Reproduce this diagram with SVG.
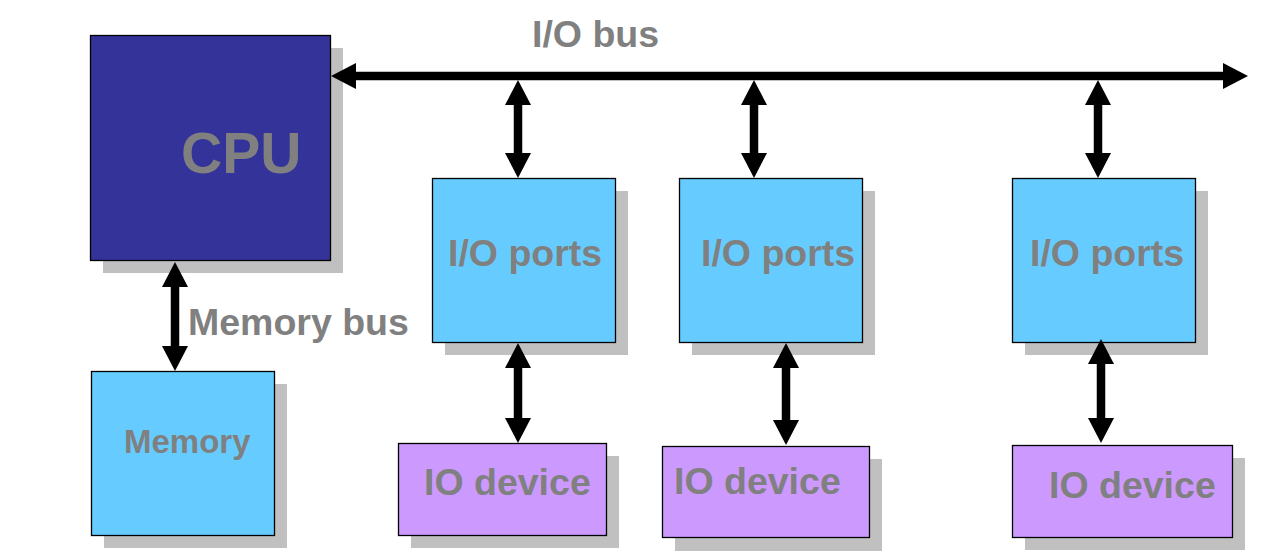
<svg xmlns="http://www.w3.org/2000/svg" width="1278" height="551" viewBox="0 0 1278 551">
<style>
.sh{fill:#C0C0C0;stroke:none}
.bx{stroke:#000;stroke-width:1.3}
.cpu{fill:#333399}
.blue{fill:#66CCFF}
.pur{fill:#CC99FF}
.t{font-family:"Liberation Sans",Arial,sans-serif;font-weight:bold;fill:#808080}
.c{stroke:#000;stroke-width:8.5;fill:none;marker-start:url(#ah);marker-end:url(#ah)}
</style>
<defs>
<marker id="ah" viewBox="0 -13 25 26" markerWidth="25" markerHeight="26" refX="0" refY="0" markerUnits="userSpaceOnUse" orient="auto-start-reverse">
<path d="M0,-13 L25,0 L0,13 Z" fill="#000"/>
</marker>
</defs>
<rect width="1278" height="551" fill="#fff"/>
<g id="cpu">
<rect class="sh" x="103" y="48" width="240" height="225"/>
<rect class="bx cpu" x="90.5" y="35.5" width="240" height="225"/>
<text class="t" x="181" y="173" font-size="57">CPU</text>
</g>
<g id="memory">
<rect class="sh" x="104" y="384" width="183" height="164"/>
<rect class="bx blue" x="91.5" y="371.5" width="183" height="164"/>
<text class="t" x="124" y="453" font-size="33">Memory</text>
</g>
<g id="ioports1">
<rect class="sh" x="445" y="191" width="183" height="164"/>
<rect class="bx blue" x="432.5" y="178.5" width="183" height="164"/>
<text class="t" x="448" y="266" font-size="37.5">I/O ports</text>
</g>
<g id="ioports2">
<rect class="sh" x="692" y="191" width="183" height="164"/>
<rect class="bx blue" x="679.5" y="178.5" width="183" height="164"/>
<text class="t" x="701" y="266" font-size="37.5">I/O ports</text>
</g>
<g id="ioports3">
<rect class="sh" x="1025" y="191" width="183" height="164"/>
<rect class="bx blue" x="1012.5" y="178.5" width="183" height="164"/>
<text class="t" x="1030" y="266" font-size="37.5">I/O ports</text>
</g>
<g id="iodevice1">
<rect class="sh" x="411" y="456" width="208" height="92"/>
<rect class="bx pur" x="398.5" y="443.5" width="208" height="92"/>
<text class="t" x="424" y="495" font-size="37.5">IO device</text>
</g>
<g id="iodevice2">
<rect class="sh" x="675" y="459" width="207" height="92"/>
<rect class="bx pur" x="662.5" y="446.5" width="207" height="91"/>
<text class="t" x="674" y="494" font-size="37.5">IO device</text>
</g>
<g id="iodevice3">
<rect class="sh" x="1025" y="458" width="220" height="92"/>
<rect class="bx pur" x="1012.5" y="445.5" width="220" height="92"/>
<text class="t" x="1049" y="498" font-size="37.5">IO device</text>
</g>
<g id="labels">
<text class="t" x="532" y="47" font-size="37.5">I/O bus</text>
<text class="t" x="188" y="335" font-size="37.5">Memory bus</text>
</g>
<g id="connectors">
<line class="c" x1="356" y1="76" x2="1223" y2="76"/>
<line class="c" x1="518" y1="105" x2="518" y2="153"/>
<line class="c" x1="754" y1="105" x2="754" y2="153"/>
<line class="c" x1="1098" y1="105" x2="1098" y2="153"/>
<line class="c" x1="518" y1="368" x2="518" y2="418"/>
<line class="c" x1="786" y1="368" x2="786" y2="420"/>
<line class="c" x1="1101" y1="364" x2="1101" y2="418"/>
<line class="c" x1="175" y1="287" x2="175" y2="346"/>
</g>
</svg>
